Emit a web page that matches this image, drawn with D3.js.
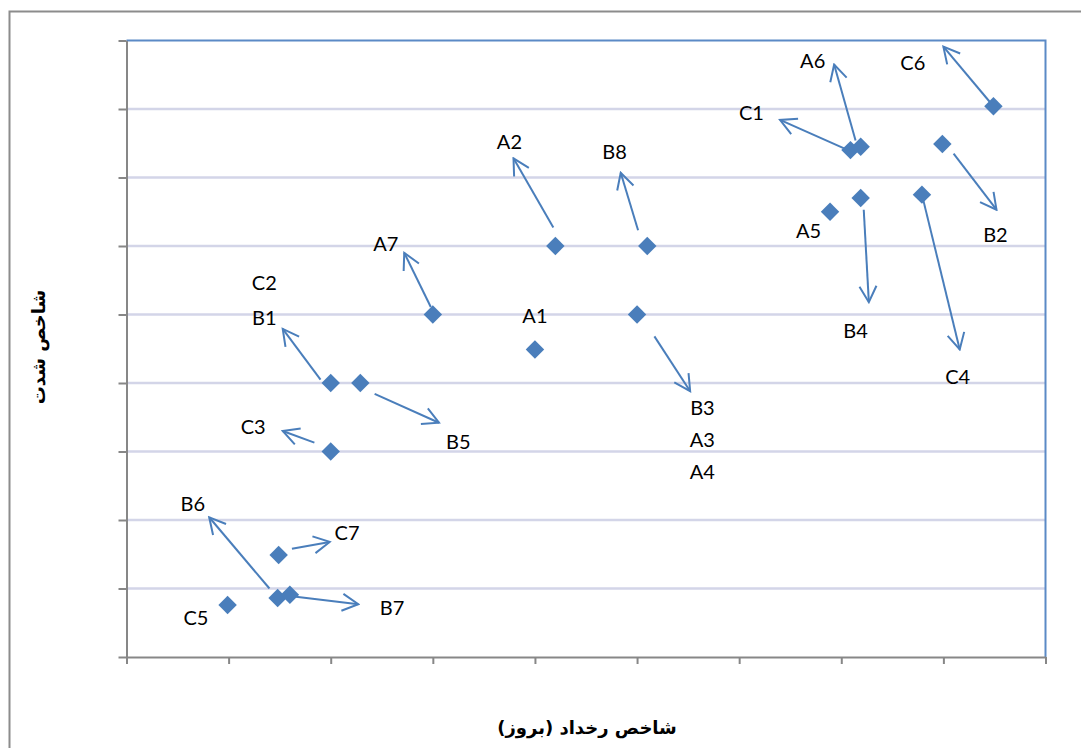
<!DOCTYPE html>
<html>
<head>
<meta charset="utf-8">
<script src="https://cdn.jsdelivr.net/npm/d3@7"></script>
<style>
  html, body { margin: 0; padding: 0; background: #ffffff; }
  svg { display: block; }
</style>
</head>
<body>
<svg id="chart" width="1081" height="748"></svg>
<script>
// ---- data (axis units 0..9 on both axes, no tick labels shown) ----
const xTicks = [0, 1, 2, 3, 4, 5, 6, 7, 8, 9];
const yTicks = [0, 1, 2, 3, 4, 5, 6, 7, 8, 9];

// scatter points (incidence index, severity index)
const pointX = [2.00, 2.29, 2.00, 3.00, 4.00, 4.20, 5.10, 5.00, 0.99, 1.49, 1.48, 1.60, 6.89, 7.09, 7.19, 7.19, 7.79, 7.99, 8.49];
const pointY = [4.00, 4.00, 3.00, 5.00, 4.49, 6.00, 6.00, 5.00, 0.76, 1.49, 0.86, 0.91, 6.50, 7.40, 7.45, 6.70, 6.75, 7.49, 8.04];

// arrows: start (x0,y0) -> end (x1,y1)
const arrowX0 = [1.90, 2.43, 1.84, 2.98, 4.18, 5.01, 5.17, 1.40, 1.62, 1.66, 7.11, 7.14, 7.22, 7.79, 8.10, 8.49];
const arrowY0 = [4.05, 3.84, 3.13, 5.11, 6.27, 6.23, 4.68, 1.00, 1.58, 0.88, 7.37, 7.54, 6.53, 6.75, 7.35, 8.04];
const arrowX1 = [1.53, 3.06, 1.53, 2.72, 3.79, 4.84, 5.52, 0.81, 1.99, 2.27, 6.40, 6.93, 7.27, 8.16, 8.52, 8.00];
const arrowY1 = [4.79, 3.42, 3.30, 5.90, 7.28, 7.07, 3.88, 2.04, 1.68, 0.77, 7.84, 8.65, 5.18, 4.49, 6.53, 8.91];

// point labels and their anchor positions
const labelText = ["C2", "B1", "C3", "B5", "A7", "A1", "A2", "B8", "B3", "A3", "A4", "B6", "C7", "C5", "B7", "C1", "A6", "C6", "A5", "B2", "B4", "C4"];
const labelX = [1.35, 1.35, 1.24, 3.25, 2.54, 4.00, 3.75, 4.78, 5.64, 5.64, 5.64, 0.65, 2.16, 0.68, 2.60, 6.12, 6.72, 7.70, 6.68, 8.51, 7.14, 8.14];
const labelY = [5.47, 4.97, 3.37, 3.16, 6.04, 4.99, 7.54, 7.38, 3.647, 3.18, 2.71, 2.25, 1.82, 0.58, 0.73, 7.95, 8.71, 8.68, 6.24, 6.18, 4.77, 4.10];

const xTitle = "شاخص رخداد (بروز)";
const yTitle = "شاخص شدت";

// ---- drawing ----
const svg = d3.select("#chart");
const blue = "#4a7ebb";
const axisGray = "#878787";

const x = d3.scaleLinear().domain([0, 9]).range([126.5, 1045.5]);
const y = d3.scaleLinear().domain([0, 9]).range([657, 40.5]);

// outer chart border (extends past the right/bottom edges)
svg.append("rect")
  .attr("x", 9.5).attr("y", 11.5)
  .attr("width", 1200).attr("height", 900)
  .attr("fill", "none")
  .attr("stroke", "#8c8c8c")
  .attr("stroke-width", 2);

// gridlines
svg.append("g")
  .selectAll("line")
  .data(yTicks.filter(d => d > 0 && d < 9))
  .join("line")
  .attr("x1", x(0)).attr("x2", x(9))
  .attr("y1", d => y(d)).attr("y2", d => y(d))
  .attr("stroke", "#d3d5e8")
  .attr("stroke-width", 2.5);

// plot area top & right border (blue)
svg.append("path")
  .attr("d", `M${x(0)},${y(9)} L${x(9)},${y(9)} L${x(9)},${y(0)}`)
  .attr("fill", "none")
  .attr("stroke", "#5b8ac6")
  .attr("stroke-width", 2);

// axes
const gy = svg.append("g")
  .attr("transform", `translate(${x(0)},0)`)
  .call(d3.axisLeft(y).tickValues(yTicks).tickSize(8).tickFormat("").tickSizeOuter(0));
const gx = svg.append("g")
  .attr("transform", `translate(0,${y(0)})`)
  .call(d3.axisBottom(x).tickValues(xTicks).tickSize(7).tickFormat("").tickSizeOuter(0));
[gx, gy].forEach(g => {
  g.selectAll("path.domain").attr("stroke", axisGray).attr("stroke-width", 2);
  g.selectAll(".tick line").attr("stroke", axisGray).attr("stroke-width", 2);
});

// arrowhead marker (open V)
svg.append("defs").append("marker")
  .attr("id", "arrowhead")
  .attr("markerUnits", "userSpaceOnUse")
  .attr("viewBox", "-18 -11 20 22")
  .attr("markerWidth", 20).attr("markerHeight", 22)
  .attr("refX", 0).attr("refY", 0)
  .attr("orient", "auto")
  .append("path")
  .attr("d", "M-16,-8.5 L0,0 L-16,8.5")
  .attr("fill", "none")
  .attr("stroke", blue)
  .attr("stroke-width", 2);

// arrows
svg.append("g")
  .selectAll("line")
  .data(d3.range(arrowX0.length))
  .join("line")
  .attr("x1", i => x(arrowX0[i])).attr("y1", i => y(arrowY0[i]))
  .attr("x2", i => x(arrowX1[i])).attr("y2", i => y(arrowY1[i]))
  .attr("stroke", blue)
  .attr("stroke-width", 2)
  .attr("marker-end", "url(#arrowhead)");

// diamond markers
const diamond = d3.symbol().type(d3.symbolSquare).size(170);
svg.append("g")
  .selectAll("path")
  .data(d3.range(pointX.length))
  .join("path")
  .attr("d", diamond)
  .attr("transform", i => `translate(${x(pointX[i])},${y(pointY[i])}) rotate(45)`)
  .attr("fill", blue);

// labels
svg.append("g")
  .selectAll("text")
  .data(d3.range(labelText.length))
  .join("text")
  .attr("x", i => x(labelX[i]))
  .attr("y", i => y(labelY[i]))
  .attr("text-anchor", "middle")
  .attr("dominant-baseline", "central")
  .attr("font-family", "Lato, 'Open Sans', sans-serif")
  .attr("font-size", 20)
  .attr("fill", "#000")
  .text(i => labelText[i]);

// axis titles
svg.append("text")
  .attr("x", 587).attr("y", 727)
  .attr("text-anchor", "middle")
  .attr("dominant-baseline", "central")
  .attr("font-family", "'DejaVu Sans', sans-serif")
  .attr("font-weight", "bold")
  .attr("font-size", 18)
  .attr("direction", "rtl")
  .text(xTitle);

svg.append("text")
  .attr("transform", "translate(38,347) rotate(-90)")
  .attr("text-anchor", "middle")
  .attr("dominant-baseline", "central")
  .attr("font-family", "'DejaVu Sans', sans-serif")
  .attr("font-weight", "bold")
  .attr("font-size", 18)
  .attr("direction", "rtl")
  .text(yTitle);
</script>
</body>
</html>
